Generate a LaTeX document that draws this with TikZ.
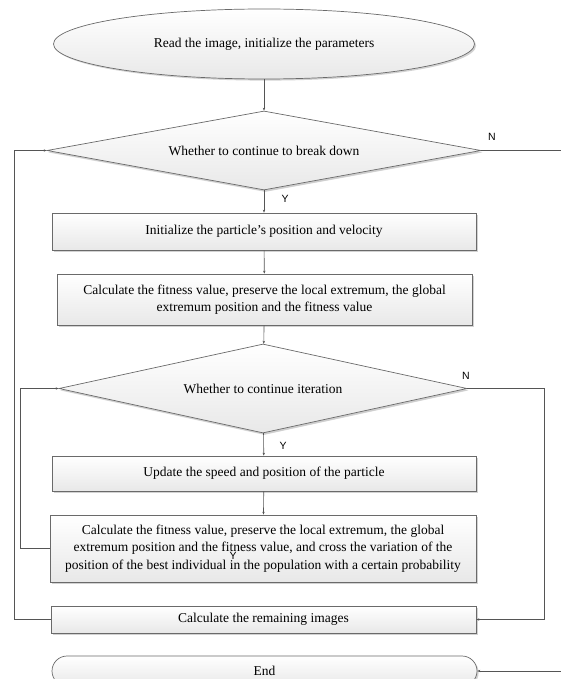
\documentclass[tikz,border=0pt]{standalone}
\usepackage{fontspec}
\setmainfont{Liberation Serif}
\newfontfamily\lsans{Liberation Sans}
\usetikzlibrary{shapes.geometric,shapes.misc,shadows,arrows.meta}
\definecolor{edgegray}{HTML}{6A6A6A}
\definecolor{linegray}{HTML}{555555}
\tikzset{
  shade box/.style={draw=edgegray, line width=0.7pt, top color=white, bottom color=black!9,
    drop shadow={shadow xshift=1.6pt, shadow yshift=-1.6pt, fill=black!25, opacity=0.7},
    font=\fontsize{13.5}{17.5}\selectfont, align=center, inner sep=0pt},
  procbox/.style={shade box, rectangle},
  decbox/.style={shade box, diamond, drop shadow={shadow xshift=1.2pt, shadow yshift=-2pt, fill=black!20, opacity=0.7}},
  termbox/.style={shade box, ellipse},
  endbox/.style={shade box, rounded rectangle},
  arr/.style={draw=linegray, line width=0.6pt, -{Stealth[length=3pt,width=2.4pt]}},
  yn/.style={font=\lsans\fontsize{10.5}{12}\selectfont, inner sep=0pt}
}
\begin{document}
\begin{tikzpicture}[x=1pt,y=1pt]
\useasboundingbox (0,0) rectangle (561,-679);
% nodes
\node[termbox, minimum width=421pt, minimum height=70pt] (start) at (264,-44) {Read the image, initialize the parameters};
\node[decbox, aspect=5.49, minimum width=434pt, minimum height=79pt] (d1) at (264,-150.5) {Whether to continue to break down};
\node[procbox, minimum width=424pt, minimum height=37pt] (b1) at (264,-231.5) {Initialize the particle's position and velocity};
\node[procbox, minimum width=415pt, minimum height=51pt] (b2) at (264.5,-299.5) {Calculate the fitness value, preserve the local extremum, the global\\extremum position and the fitness value};
\node[decbox, aspect=4.58, minimum width=408pt, minimum height=89pt] (d2) at (263,-388.5) {Whether to continue iteration};
\node[procbox, minimum width=424pt, minimum height=35pt] (b3) at (264,-473.5) {Update the speed and position of the particle};
\node[procbox, minimum width=426pt, minimum height=67pt] (b4) at (263,-548.5) {Calculate the fitness value, preserve the local extremum, the global\\extremum position and the fitness value, and cross the variation of the\\position of the best individual in the population with a certain probability};
\node[procbox, minimum width=425pt, minimum height=27pt] (b5) at (263.5,-619.5) {Calculate the remaining images};
\node[endbox, minimum width=425pt, minimum height=30pt] (end) at (264.5,-671) {End};
% labels
\node[yn] (y1) at (285,-199) {Y};
\node[yn] (n1) at (492,-137) {N};
\node[yn] (y2) at (283,-446) {Y};
\node[yn] (n2) at (466,-376) {N};
\node[yn] (y3) at (233,-556) {Y};
% helper coordinates
\coordinate (lo) at (14,-619.5);
\coordinate (li) at (20,-548.5);
\coordinate (ri) at (544,-619.5);
\coordinate (ro) at (566,-671);
% connectors
\draw[arr] (start) -- (d1);
\draw[arr] (d1) -- (b1);
\draw[arr] (b1) -- (b2);
\draw[arr] (b2) -- (d2);
\draw[arr] (d2) -- (b3);
\draw[arr] (b3) -- (b4);
\draw[arr] (b4.west) -- (li) |- (d2.west);
\draw[arr] (b5.west) -- (lo) |- (d1.west);
\draw[arr] (d2.east) -| (ri) -- (b5.east);
\draw[arr] (d1.east) -| (ro) -- (end.east);
\end{tikzpicture}
\end{document}
